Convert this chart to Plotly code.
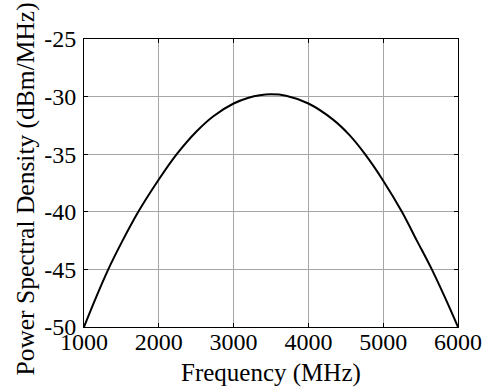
import plotly.graph_objects as go

# Data
freq_mhz = [1000, 1150, 1317, 1500, 1726, 2000, 2240, 2500, 2730, 3000, 3200, 3350, 3500,
            3700, 4000, 4330, 4550, 4757, 5000, 5250, 5450, 5650, 5830, 6000]
psd_dbm = [-50.0, -47.6, -45.1, -42.7, -40.0, -37.2, -35.0, -33.05, -31.7, -30.6, -30.1, -29.88, -29.8,
           -29.92, -30.6, -32.0, -33.35, -35.0, -37.3, -40.0, -42.5, -45.0, -47.5, -50.0]

x_tickvals = [1000, 2000, 3000, 4000, 5000, 6000]
x_ticktext = ["1000", "2000", "3000", "4000", "5000", "6000"]
y_tickvals = [-50, -45, -40, -35, -30, -25]
y_ticktext = ["-50", "-45", "-40", "-35", "-30", "-25"]

FONT = "Liberation Serif, Times New Roman, serif"

fig = go.Figure()
fig.add_trace(go.Scatter(x=freq_mhz, y=psd_dbm, mode="lines",
                         line=dict(color="black", width=2, shape="spline", smoothing=1.0),
                         showlegend=False, hoverinfo="skip"))

axis_common = dict(showline=True, linecolor="black", linewidth=1, mirror="ticks",
                   ticks="inside", ticklen=4, tickcolor="black", tickwidth=1,
                   showgrid=True, gridcolor="#a6a6a6", gridwidth=1, zeroline=False,
                   automargin=False,
                   tickfont=dict(family=FONT, size=24, color="black"))

fig.update_xaxes(range=[1000, 6000], tickmode="array", tickvals=x_tickvals, ticktext=x_ticktext,
                 ticklabelstandoff=-7, **axis_common)
fig.update_yaxes(range=[-50, -25], tickmode="array", tickvals=y_tickvals, ticktext=y_ticktext,
                 ticklabelstandoff=2, **axis_common)

fig.add_annotation(text="Frequency (MHz)", xref="paper", yref="paper",
                   x=0.5, y=-0.16, xanchor="center", yanchor="middle",
                   showarrow=False, font=dict(family=FONT, size=25, color="black"))
fig.add_annotation(text="Power Spectral Density (dBm/MHz)", xref="paper", yref="paper",
                   x=-0.156, y=-0.175, xanchor="center", yanchor="bottom", textangle=-90,
                   showarrow=False, font=dict(family=FONT, size=25.5, color="black"))

fig.update_layout(width=491, height=388, margin=dict(l=84, r=33, t=39, b=61),
                  plot_bgcolor="white", paper_bgcolor="white")

fig.write_html("out.html", config={"displayModeBar": False},
               post_script="document.body.style.margin='0';document.body.style.overflow='hidden';")
